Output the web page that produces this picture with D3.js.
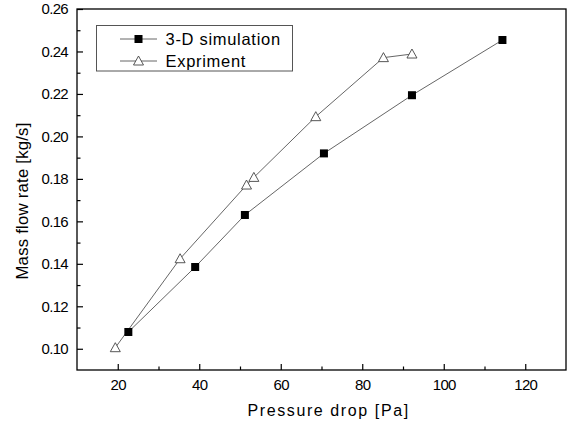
<!DOCTYPE html>
<html><head><meta charset="utf-8">
<script src="https://cdn.jsdelivr.net/npm/d3@7"></script>
<style>body{margin:0;background:#fff}svg{display:block}text{font-family:Arial,"Liberation Sans",sans-serif;fill:#000}</style>
</head><body>
<svg id="c" width="578" height="425"></svg>
<script>
const simX = [22.6, 39.0, 51.2, 70.6, 92.2, 114.4];
const simY = [0.1079, 0.1385, 0.1630, 0.1920, 0.2194, 0.2454];
const expX = [19.4, 35.3, 51.6, 53.4, 68.6, 85.2, 92.2];
const expY = [0.1005, 0.1424, 0.1771, 0.1807, 0.2093, 0.2371, 0.2388];
const xTicks = [20, 40, 60, 80, 100, 120];
const yTicks = [0.10, 0.12, 0.14, 0.16, 0.18, 0.20, 0.22, 0.24, 0.26];
const seriesNames = ["3-D simulation", "Expriment"];

const svg = d3.select("#c");
const L = 77, R = 566, T = 9, B = 370;
const x = d3.scaleLinear().domain([10, 130]).range([L, R]);
const y = d3.scaleLinear().domain([0.09, 0.26]).range([B, T]);

// frame
svg.append("rect").attr("x", L).attr("y", T).attr("width", R - L).attr("height", B - T)
  .attr("fill", "none").attr("stroke", "#000").attr("stroke-width", 1.3);

// x axis
const xMinor = d3.range(10, 131, 10).filter(v => !xTicks.includes(v) && v > 10 && v < 130);
const gx = svg.append("g").attr("transform", `translate(0,${B})`);
gx.call(d3.axisBottom(x).tickValues(xTicks).tickSize(-6).tickFormat(d3.format("d")).tickPadding(9));
gx.select(".domain").remove();
gx.selectAll("text").attr("font-size", 15).attr("letter-spacing", -0.7).attr("dy", "0.71em");
gx.selectAll("line").attr("stroke", "#000").attr("stroke-width", 1.2);
svg.append("g").attr("transform", `translate(0,${B})`)
  .call(d3.axisBottom(x).tickValues(xMinor).tickSize(-3.5).tickFormat(""))
  .call(g => g.select(".domain").remove())
  .selectAll("line").attr("stroke", "#000").attr("stroke-width", 1.2);

// y axis
const yMinor = [0.11, 0.13, 0.15, 0.17, 0.19, 0.21, 0.23, 0.25];
const gy = svg.append("g").attr("transform", `translate(${L},0)`);
gy.call(d3.axisLeft(y).tickValues(yTicks).tickSize(-6).tickFormat(d3.format(".2f")).tickPadding(9));
gy.select(".domain").remove();
gy.selectAll("text").attr("font-size", 15).attr("letter-spacing", -0.7);
gy.selectAll("line").attr("stroke", "#000").attr("stroke-width", 1.2);
svg.append("g").attr("transform", `translate(${L},0)`)
  .call(d3.axisLeft(y).tickValues(yMinor).tickSize(-3.5).tickFormat(""))
  .call(g => g.select(".domain").remove())
  .selectAll("line").attr("stroke", "#000").attr("stroke-width", 1.2);

// axis titles
svg.append("text").attr("x", 247.5).attr("y", 416).attr("font-size", 16)
  .attr("letter-spacing", 1.6).text("Pressure drop [Pa]");
svg.append("text").attr("transform", "translate(27.5,201) rotate(-90)").attr("text-anchor", "middle")
  .attr("font-size", 16.8).attr("letter-spacing", 0.2).text("Mass flow rate [kg/s]");

const line = d3.line();
const simPts = simX.map((v, i) => [x(v), y(simY[i])]);
const expPts = expX.map((v, i) => [x(v), y(expY[i])]);
svg.append("path").attr("d", line(simPts)).attr("fill", "none").attr("stroke", "#555").attr("stroke-width", 0.9);
svg.append("path").attr("d", line(expPts)).attr("fill", "none").attr("stroke", "#555").attr("stroke-width", 0.9);

function square(g, cx, cy) {
  g.append("rect").attr("x", cx - 4).attr("y", cy - 4).attr("width", 8).attr("height", 8).attr("fill", "#000");
}
function triangle(g, cx, cy) {
  g.append("path").attr("d", "M0,-5L5,4H-5Z").attr("transform", `translate(${cx},${cy})`)
    .attr("fill", "#fff").attr("stroke", "#444").attr("stroke-width", 0.9);
}
simPts.forEach(p => square(svg, p[0], p[1]));
expPts.forEach(p => triangle(svg, p[0], p[1]));

// legend
svg.append("rect").attr("x", 96.5).attr("y", 25.5).attr("width", 196).attr("height", 45.5)
  .attr("fill", "#fff").attr("stroke", "#555").attr("stroke-width", 1);
const rows = [39, 61];
rows.forEach((ry, i) => {
  svg.append("line").attr("x1", 120).attr("x2", 157).attr("y1", ry).attr("y2", ry).attr("stroke", "#555").attr("stroke-width", 0.9);
  if (i === 0) square(svg, 138.5, ry); else triangle(svg, 138.5, ry);
  svg.append("text").attr("x", 165.5).attr("y", ry).attr("dy", "0.36em").attr("font-size", 16.5)
    .attr("letter-spacing", 0.7).text(seriesNames[i]);
});
</script>
</body></html>
